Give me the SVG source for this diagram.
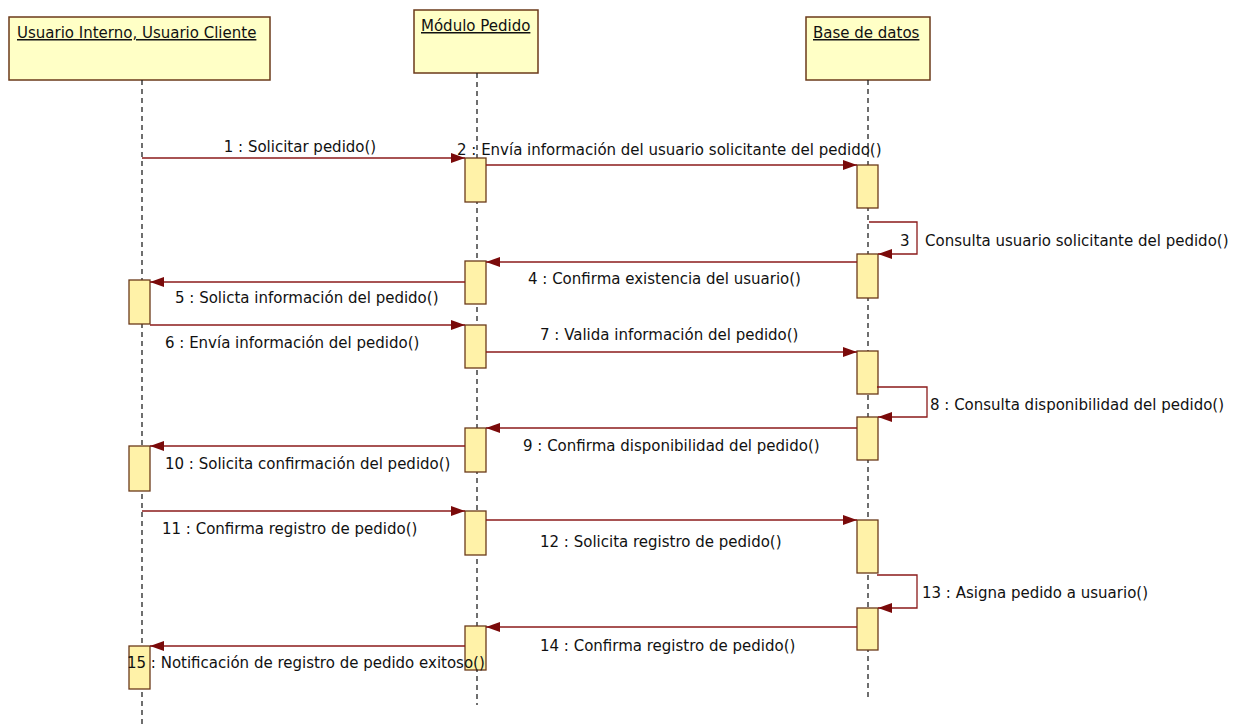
<svg xmlns="http://www.w3.org/2000/svg" width="1247" height="727" viewBox="0 0 1247 727">
<style>
.hdr{fill:#FFFFC6;stroke:#6B3A1A;stroke-width:1.5}
.act{fill:#FFF2A8;stroke:#6B3A1A;stroke-width:1.3}
.life{stroke:#222;stroke-width:1.3;stroke-dasharray:5,4;fill:none}
.msg{stroke:#8B1A1A;stroke-width:1.3;fill:none;marker-end:url(#ah)}
.t{font-family:"DejaVu Sans",sans-serif;font-size:15px;fill:#111}
.h{font-family:"DejaVu Sans",sans-serif;font-size:15px;fill:#111;text-decoration:underline}
</style>
<defs>
<marker id="ah" viewBox="0 0 14 10" refX="14" refY="5" markerWidth="14" markerHeight="10" markerUnits="userSpaceOnUse" orient="auto">
<path d="M0,0 L14,5 L0,10 Z" fill="#7A0A0A"/>
</marker>
</defs>
<rect width="1247" height="727" fill="#fff"/>
<g id="usuario">
<rect class="hdr" x="9" y="17" width="261" height="63"/>
<text class="h" x="17" y="38">Usuario Interno, Usuario Cliente</text>
<line class="life" x1="142" y1="80" x2="142" y2="727"/>
<rect class="act" x="129" y="280" width="21" height="44"/>
<rect class="act" x="129" y="446" width="21" height="45"/>
<rect class="act" x="129" y="646" width="21" height="43"/>
</g>
<g id="modulo">
<rect class="hdr" x="414" y="10" width="124" height="63"/>
<text class="h" x="421" y="31">Módulo Pedido</text>
<line class="life" x1="477" y1="73" x2="477" y2="705"/>
<rect class="act" x="465" y="158" width="21" height="44"/>
<rect class="act" x="465" y="261" width="21" height="43"/>
<rect class="act" x="465" y="325" width="21" height="43"/>
<rect class="act" x="465" y="428" width="21" height="44"/>
<rect class="act" x="465" y="511" width="21" height="44"/>
<rect class="act" x="465" y="626" width="21" height="44"/>
</g>
<g id="base">
<rect class="hdr" x="806" y="17" width="124" height="63"/>
<text class="h" x="813" y="38">Base de datos</text>
<line class="life" x1="868" y1="80" x2="868" y2="700"/>
<rect class="act" x="857" y="165" width="21" height="43"/>
<rect class="act" x="857" y="254" width="21" height="44"/>
<rect class="act" x="857" y="351" width="21" height="43"/>
<rect class="act" x="857" y="417" width="21" height="43"/>
<rect class="act" x="857" y="520" width="21" height="53"/>
<rect class="act" x="857" y="608" width="21" height="42"/>
</g>
<g id="connectors">
<line class="msg" x1="142" y1="158" x2="465" y2="158"/>
<text class="t" x="300" y="152" text-anchor="middle">1 : Solicitar pedido()</text>
<line class="msg" x1="486" y1="165" x2="857" y2="165"/>
<text class="t" x="457" y="155">2 : Envía información del usuario solicitante del pedido()</text>
<polyline class="msg" points="869,222 917,222 917,254 878,254"/>
<text class="t" x="900" y="246">3</text>
<text class="t" x="925" y="246">Consulta usuario solicitante del pedido()</text>
<line class="msg" x1="857" y1="262" x2="486" y2="262"/>
<text class="t" x="528" y="284">4 : Confirma existencia del usuario()</text>
<line class="msg" x1="465" y1="282" x2="150" y2="282"/>
<text class="t" x="175" y="303">5 : Solicta información del pedido()</text>
<line class="msg" x1="150" y1="325" x2="465" y2="325"/>
<text class="t" x="165" y="348">6 : Envía información del pedido()</text>
<line class="msg" x1="486" y1="352" x2="857" y2="352"/>
<text class="t" x="540" y="340">7 : Valida información del pedido()</text>
<polyline class="msg" points="877,387 927,387 927,417 878,417"/>
<text class="t" x="930" y="410">8 : Consulta disponibilidad del pedido()</text>
<line class="msg" x1="857" y1="428" x2="486" y2="428"/>
<text class="t" x="523" y="451">9 : Confirma disponibilidad del pedido()</text>
<line class="msg" x1="465" y1="446" x2="150" y2="446"/>
<text class="t" x="165" y="469">10 : Solicita confirmación del pedido()</text>
<line class="msg" x1="142" y1="511" x2="465" y2="511"/>
<text class="t" x="162" y="534">11 : Confirma registro de pedido()</text>
<line class="msg" x1="486" y1="520" x2="857" y2="520"/>
<text class="t" x="540" y="547">12 : Solicita registro de pedido()</text>
<polyline class="msg" points="877,575 917,575 917,608 878,608"/>
<text class="t" x="922" y="598">13 : Asigna pedido a usuario()</text>
<line class="msg" x1="857" y1="627" x2="486" y2="627"/>
<text class="t" x="540" y="651">14 : Confirma registro de pedido()</text>
<line class="msg" x1="465" y1="646" x2="150" y2="646"/>
<text class="t" x="127" y="668">15 : Notificación de registro de pedido exitoso()</text>
</g>
</svg>
